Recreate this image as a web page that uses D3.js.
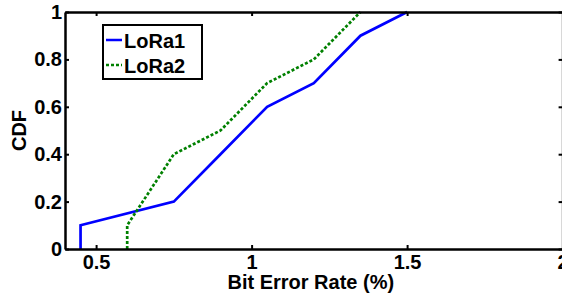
<!DOCTYPE html>
<html>
<head>
<meta charset="utf-8">
<script src="https://cdn.jsdelivr.net/npm/d3@7"></script>
<style>
  body { margin: 0; background: #fff; overflow: hidden; }
  text { font-family: "Liberation Sans", Arial, sans-serif; font-weight: bold; }
</style>
</head>
<body>
<script>
// CDF of bit error rate for the two LoRa links
var lora1X = [0.45, 0.45, 0.75, 0.9, 1.05, 1.2, 1.35, 1.5];
var lora1Y = [0, 0.1, 0.2, 0.4, 0.6, 0.7, 0.9, 1.0];
var lora2X = [0.6, 0.6, 0.75, 0.9, 1.05, 1.2, 1.35];
var lora2Y = [0, 0.1, 0.4, 0.5, 0.7, 0.8, 1.0];

var xTicks = [0.5, 1, 1.5, 2];
var yTicks = [0, 0.2, 0.4, 0.6, 0.8, 1];
var seriesNames = ["LoRa1", "LoRa2"];

var width = 562, height = 298;
var plot = { left: 65, right: 562.6, top: 12, bottom: 249 };

var x = d3.scaleLinear().domain([0.4, 2]).range([plot.left, plot.right]);
var y = d3.scaleLinear().domain([0, 1]).range([plot.bottom, plot.top]);

var svg = d3.select("body").append("svg")
  .attr("width", width)
  .attr("height", height);

var series = [
  { name: seriesNames[0], pts: d3.zip(lora1X, lora1Y), color: "#0000ff", dash: null },
  { name: seriesNames[1], pts: d3.zip(lora2X, lora2Y), color: "#008000", dash: "3,2" }
];

var line = d3.line()
  .x(function(d) { return x(d[0]); })
  .y(function(d) { return y(d[1]); });

svg.selectAll("path.series").data(series).enter()
  .append("path")
  .attr("class", "series")
  .attr("d", function(d) { return line(d.pts); })
  .attr("fill", "none")
  .attr("stroke", function(d) { return d.color; })
  .attr("stroke-width", 2.7)
  .attr("stroke-dasharray", function(d) { return d.dash; });

// axes, matlab style: inward ticks on all four sides
var tickLen = 4;
svg.append("g")
  .attr("transform", "translate(0," + plot.bottom + ")")
  .call(d3.axisBottom(x).tickValues(xTicks).tickSizeInner(-tickLen).tickSizeOuter(0).tickPadding(6)
    .tickFormat(function(d) { return d; }));
svg.append("g")
  .attr("transform", "translate(0," + plot.top + ")")
  .call(d3.axisTop(x).tickValues(xTicks).tickSizeInner(-tickLen).tickSizeOuter(0).tickFormat(""));
svg.append("g")
  .attr("transform", "translate(" + plot.left + ",0)")
  .call(d3.axisLeft(y).tickValues(yTicks).tickSizeInner(-tickLen).tickSizeOuter(0).tickPadding(3)
    .tickFormat(function(d) { return d; }));
svg.append("g")
  .attr("transform", "translate(" + plot.right + ",0)")
  .call(d3.axisRight(y).tickValues(yTicks).tickSizeInner(-tickLen).tickSizeOuter(0).tickFormat(""));

svg.selectAll(".domain").attr("stroke", "#000").attr("stroke-width", 2.5);
svg.selectAll(".tick line").attr("stroke", "#000").attr("stroke-width", 2);
svg.selectAll(".tick text")
  .attr("fill", "#000")
  .style("font-size", "20px")
  .style("font-weight", "bold")
  .style("font-family", "Liberation Sans, Arial, sans-serif");

// axis titles
svg.append("text")
  .attr("x", (plot.left + plot.right) / 2 - 3)
  .attr("y", 289)
  .attr("text-anchor", "middle")
  .style("font-size", "20px")
  .text("Bit Error Rate (%)");

svg.append("text")
  .attr("transform", "translate(26," + ((plot.top + plot.bottom) / 2) + ") rotate(-90)")
  .attr("text-anchor", "middle")
  .style("font-size", "20px")
  .text("CDF");

// legend
var legend = svg.append("g");
legend.append("rect")
  .attr("x", 103).attr("y", 25)
  .attr("width", 99).attr("height", 54)
  .attr("fill", "#fff")
  .attr("stroke", "#000")
  .attr("stroke-width", 2);

var items = legend.selectAll("g.item").data(series).enter()
  .append("g")
  .attr("transform", function(d, i) { return "translate(0," + (40 + i * 25) + ")"; });
items.append("line")
  .attr("x1", 106).attr("x2", 122)
  .attr("y1", 0).attr("y2", 0)
  .attr("stroke", function(d) { return d.color; })
  .attr("stroke-width", 2.5)
  .attr("stroke-dasharray", function(d) { return d.dash; });
items.append("text")
  .attr("x", 124).attr("y", 8)
  .style("font-size", "20px")
  .text(function(d) { return d.name; });
</script>
</body>
</html>
